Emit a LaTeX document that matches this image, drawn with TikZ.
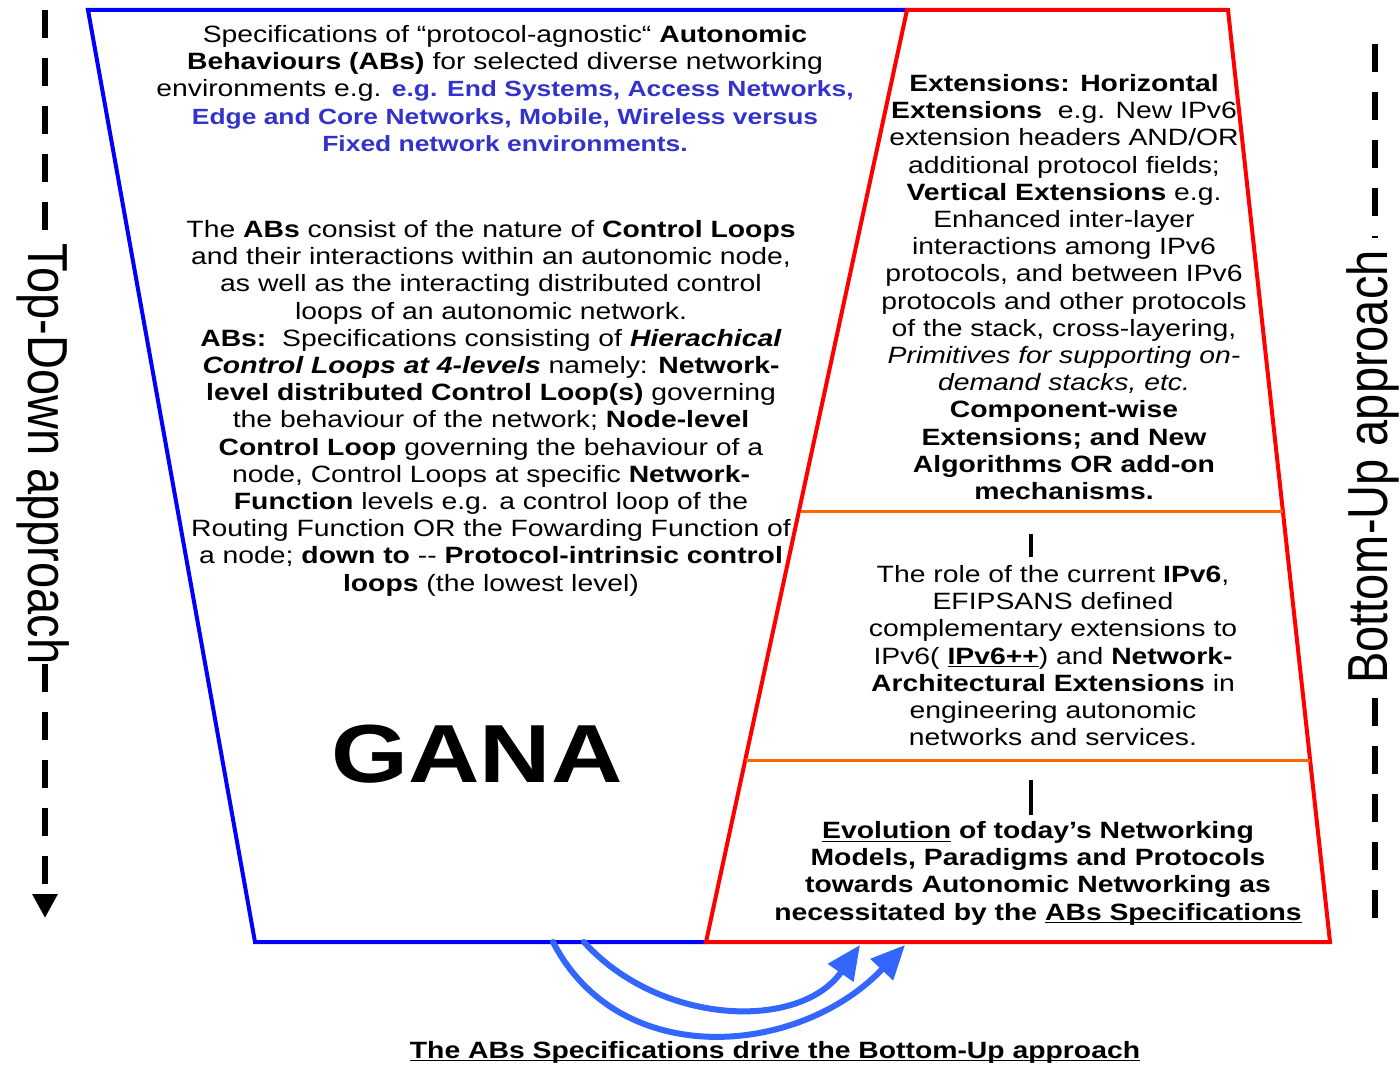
\documentclass[tikz,border=0pt]{standalone}
\usepackage{fontspec}
\setmainfont{Liberation Sans}
\usetikzlibrary{arrows.meta}

\definecolor{frameblue}{RGB}{0,0,255}
\definecolor{framered}{RGB}{255,0,0}
\definecolor{divorange}{RGB}{255,102,0}
\definecolor{textblue}{RGB}{51,51,204}
\definecolor{arrowblue}{RGB}{51,102,255}

% text set in a centred block, widened a little
\newcommand\wideblock[1]{\scalebox{1.2}[1]{\begin{tabular}{@{}c@{}}#1\end{tabular}}}
\newcommand\bb[1]{\textcolor{textblue}{\fontsize{11}{13.6}\selectfont\textbf{#1}}}

\begin{document}
\begin{tikzpicture}[x=0.5pt,y=-0.5pt,
  body/.style={inner sep=0pt, anchor=north, font=\fontsize{11.8}{13.6}\selectfont},
  sidelabel/.style={inner sep=0pt, font=\fontsize{23.5}{26}\selectfont},
  frameline/.style={line width=2pt, line join=miter},
  divider/.style={line width=1.5pt, draw=divorange},
  tick/.style={line width=2pt, draw=black},
  axisdash/.style={line width=3pt, dash pattern=on 14pt off 10pt},
  drive/.style={line width=3pt, draw=arrowblue, -{Triangle[length=17pt,width=15pt]}, fill=none},
]
\useasboundingbox (0,0) rectangle (1400,1064);

% corners of the two panels
\coordinate (tl) at (88,10);
\coordinate (tm) at (907,10);
\coordinate (tr) at (1228,10);
\coordinate (bl) at (255,942);
\coordinate (bm) at (706,942);
\coordinate (br) at (1330,942);

% left panel (blue) and right panel (red)
\draw[frameline, draw=frameblue] (tm) -- (tl) -- (bl) -- (bm);
\draw[frameline, draw=framered] (tm) -- (tr) -- (br) -- (bm) -- cycle;

% dividers of the right panel
\coordinate (d1l) at (801,511);
\coordinate (d1r) at (1283,511);
\coordinate (d2l) at (746,760);
\coordinate (d2r) at (1310,760);
\draw[divider] (d1l) -- (d1r);
\draw[divider] (d2l) -- (d2r);

% short marks below the dividers
\coordinate (m1a) at (1031,534);
\coordinate (m1b) at (1031,557);
\coordinate (m2a) at (1031,780);
\coordinate (m2b) at (1031,815);
\draw[tick] (m1a) -- (m1b);
\draw[tick] (m2a) -- (m2b);

% left panel texts
\node[body] (spec) at (505,23) {\wideblock{%
Specifications of “protocol-agnostic“ \textbf{Autonomic}\\
\textbf{Behaviours (ABs)} for selected diverse networking\\
environments e.g. \bb{e.g. End Systems, Access Networks,}\\
\bb{Edge and Core Networks, Mobile, Wireless versus}\\
\bb{Fixed network environments.}}};

\node[body] (loops) at (491,218) {\wideblock{%
The \textbf{ABs} consist of the nature of \textbf{Control Loops}\\
and their interactions within an autonomic node,\\
as well as the interacting distributed control\\
loops of an autonomic network.\\
\textbf{ABs:}\ \ Specifications consisting of \textbf{\itshape Hierachical}\\
\textbf{\itshape Control Loops at 4-levels} namely: \textbf{Network-}\\
\textbf{level distributed Control Loop(s)} governing\\
the behaviour of the network; \textbf{Node-level}\\
\textbf{Control Loop} governing the behaviour of a\\
node, Control Loops at specific \textbf{Network-}\\
\textbf{Function} levels e.g. a control loop of the\\
Routing Function OR the Fowarding Function of\\
a node; \textbf{down to} -{}- \textbf{Protocol-intrinsic control}\\
\textbf{loops} (the lowest level)}};

\node[inner sep=0pt, anchor=base, font=\fontsize{41.2}{45}\selectfont\bfseries] (gana) at (477,782) {\scalebox{1.2}[1]{GANA}};

% right panel texts
\node[body] (ext) at (1064,72) {\wideblock{%
\textbf{Extensions: Horizontal}\\
\textbf{Extensions}\ \ e.g. New IPv6\\
extension headers AND/OR\\
additional protocol fields;\\
\textbf{Vertical Extensions} e.g.\\
Enhanced inter-layer\\
interactions among IPv6\\
protocols, and between IPv6\\
protocols and other protocols\\
of the stack, cross-layering,\\
\textit{Primitives for supporting on-}\\
\textit{demand stacks, etc.}\\
\textbf{Component-wise}\\
\textbf{Extensions; and New}\\
\textbf{Algorithms OR add-on}\\
\textbf{mechanisms.}}};

\node[body] (ipv6) at (1053,563) {\wideblock{%
The role of the current \textbf{IPv6},\\
EFIPSANS defined\\
complementary extensions to\\
IPv6( \textbf{\underbar{IPv6++}}) and \textbf{Network-}\\
\textbf{Architectural Extensions} in\\
engineering autonomic\\
networks and services.}};

\node[body] (evol) at (1038,819) {\wideblock{\bfseries
\underbar{Evolution} of today’s Networking\\
\textbf{Models, Paradigms and Protocols}\\
\textbf{towards Autonomic Networking as}\\
\textbf{necessitated by the \underbar{ABs Specifications}}}};

% side labels with their dashed axes
\node[sidelabel, rotate=-90] (topdown) at (43,454) {\scalebox{1}[1.2]{Top-Down approach}};
\node[sidelabel, rotate=90] (bottomup) at (1373,467) {\scalebox{1}[1.2]{Bottom-Up approach}};

\coordinate (la) at (45,10);
\coordinate (lb) at (45,240);
\coordinate (lc) at (45,664);
\coordinate (ld) at (45,918);
\draw[axisdash] (la) -- (lb);
\draw[axisdash, -{Triangle[length=12pt,width=12pt]}] (lc) -- (ld);

\coordinate (ra) at (1375,44);
\coordinate (rb) at (1375,238);
\coordinate (rc) at (1375,698);
\coordinate (rd) at (1375,930);
\draw[axisdash] (ra) -- (rb);
\draw[axisdash] (rc) -- (rd);

% the ABs specifications drive the bottom-up side
\coordinate (o1) at (553,942);
\coordinate (o2) at (905,945);
\coordinate (i1) at (584,942);
\coordinate (i2) at (860,945);
\draw[drive, line cap=round] (o1) .. controls (620,1072) and (800,1056) .. (o2);
\draw[drive, line cap=round] (i1) .. controls (660,1026) and (800,1031) .. (i2);

\node[inner sep=0pt, anchor=base, font=\fontsize{11.8}{13.6}\selectfont\bfseries] (caption) at (775,1058)
  {\scalebox{1.2}[1]{\underbar{The ABs Specifications drive the Bottom-Up approach}}};
\end{tikzpicture}
\end{document}
